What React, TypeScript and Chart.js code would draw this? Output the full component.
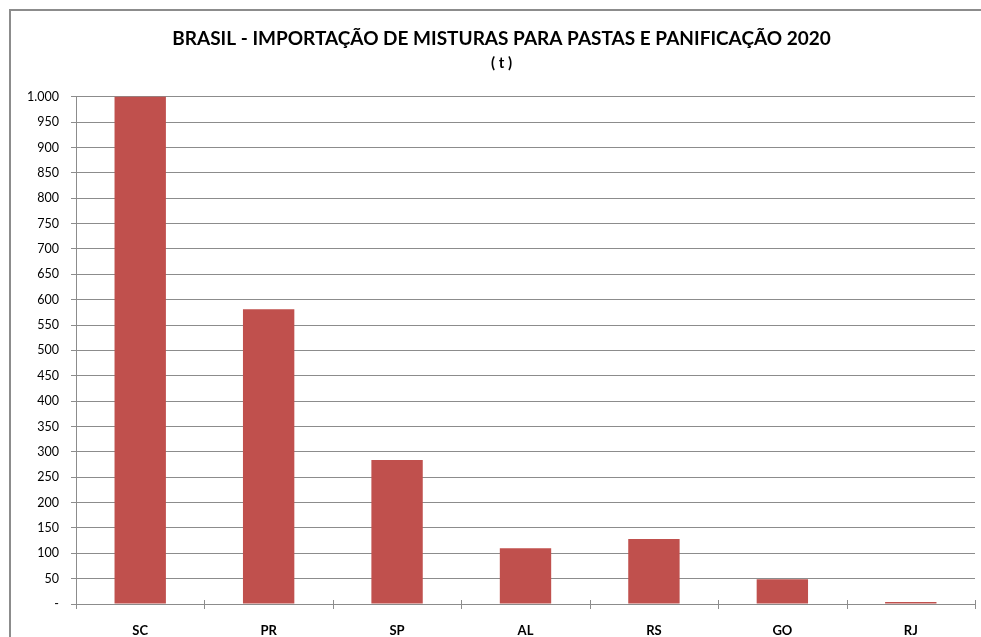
import React, { useEffect, useRef } from "react";
import { Chart, registerables } from "chart.js";

Chart.register(...registerables);

const categories = ["SC", "PR", "SP", "AL", "RS", "GO", "RJ"];
const values = [1003, 581, 284, 110, 128, 49, 4];
const titleText = "BRASIL - IMPORTAÇÃO DE MISTURAS PARA PASTAS E PANIFICAÇÃO 2020";
const subtitleText = "( t )";

const FONT = "Lato, 'Open Sans', sans-serif";
const GRID = "#8c8c8c";

const crossTicks = {
  id: "crossTicks",
  afterDraw(chart: any) {
    const x = chart.scales.x;
    const ctx = chart.ctx;
    const y0 = chart.chartArea.bottom;
    ctx.save();
    ctx.strokeStyle = GRID;
    ctx.lineWidth = 1;
    for (let i = 0; i <= categories.length; i++) {
      const px = Math.round(x.getPixelForValue(i - 0.5)) + 0.5;
      ctx.beginPath();
      ctx.moveTo(px, y0 - 4);
      ctx.lineTo(px, y0 + 5);
      ctx.stroke();
    }
    ctx.restore();
  },
};

export default function App() {
  const ref = useRef<HTMLCanvasElement>(null);
  useEffect(() => {
    if (!ref.current) return;
    const chart = new Chart(ref.current, {
      type: "bar",
      data: {
        labels: categories,
        datasets: [
          {
            data: values,
            backgroundColor: "#C0504D",
            borderWidth: 0,
            barPercentage: 0.4,
            categoryPercentage: 1,
          },
        ],
      },
      options: {
        animation: false,
        responsive: false,
        maintainAspectRatio: false,
        layout: { padding: { left: 28, right: 6, top: 0, bottom: 0 } },
        plugins: {
          legend: { display: false },
          tooltip: { enabled: false },
          title: {
            display: true,
            text: titleText,
            color: "#000",
            font: { family: FONT, size: 19, weight: "bold" },
            padding: { top: 27, bottom: 1 },
          },
          subtitle: {
            display: true,
            text: subtitleText,
            color: "#000",
            font: { family: FONT, size: 15, weight: "bold" },
            padding: { top: 3, bottom: 25 },
          },
        },
        scales: {
          x: {
            grid: { display: false },
            border: { display: true, color: GRID, width: 1 },
            ticks: {
              color: "#000",
              font: { family: FONT, size: 13, weight: "bold" },
              padding: 11,
            },
            afterFit(scale: any) {
              scale.height = 33;
            },
          },
          y: {
            min: 0,
            max: 1000,
            grid: { color: GRID, lineWidth: 1, tickLength: 5, drawTicks: true },
            border: { display: true, color: GRID, width: 1 },
            ticks: {
              stepSize: 50,
              color: "#000",
              font: { family: FONT, size: 12.5 },
              padding: 12,
              callback: (v: any) =>
                Number(v) === 0 ? "-" : Number(v).toLocaleString("de-DE"),
            },
            afterFit(scale: any) {
              scale.width = 48;
            },
          },
        },
      },
      plugins: [crossTicks],
    });
    return () => chart.destroy();
  }, []);

  return (
    <div style={{ position: "fixed", left: 0, top: 0, width: 981, height: 637, background: "#fff" }}>
      <div
        style={{
          position: "absolute",
          left: 9,
          top: 9,
          width: 990,
          height: 660,
          borderLeft: "2px solid #8c8c8c",
          borderTop: "2px solid #8c8c8c",
        }}
      />
      <canvas ref={ref} width={981} height={637} style={{ position: "absolute", left: 0, top: 0 }} />
    </div>
  );
}
